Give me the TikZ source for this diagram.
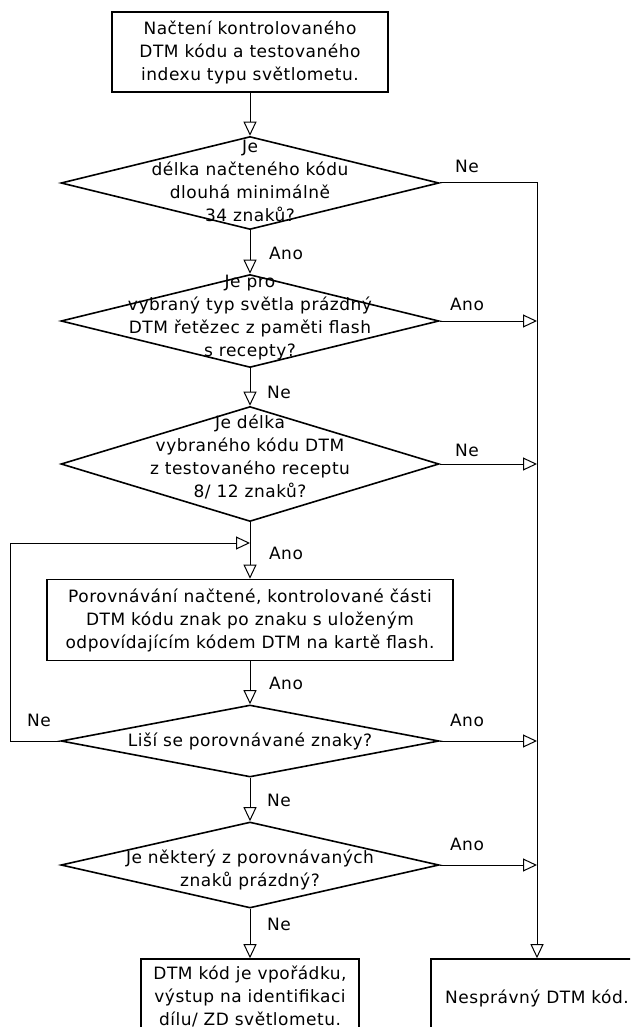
\documentclass[tikz,border=0pt]{standalone}
\usepackage{fontspec}
\setmainfont{DejaVu Sans}[LetterSpace=3]
\usetikzlibrary{arrows.meta}
\usetikzlibrary{shapes.geometric}

\begin{document}
\begin{tikzpicture}[x=1pt, y=-1pt, >={Triangle[open, length=14pt, width=13pt]},
  txt/.style={inner sep=0pt, align=center, font=\fontsize{17}{23}\selectfont},
  box/.style={txt, rectangle, draw, line width=1.6pt},
  decision/.style={diamond, draw, line width=1.6pt, inner sep=0pt, minimum width=378pt},
  flow/.style={line width=1pt}]

\clip (0,0) rectangle (630,1027);

% Define nodes
\node (start) [box, minimum width=276pt, minimum height=80pt] at (250,52)
  {Načtení kontrolovaného\\DTM kódu a testovaného\\indexu typu světlometu.};

\node (d1) [decision, minimum height=93pt] at (250,183) {};
\node (d1t) [txt] at (250,181) {Je\\délka načteného kódu\\dlouhá minimálně\\34 znaků?};

\node (d2) [decision, minimum height=93pt] at (250,321) {};
\node (d2t) [txt] at (250,318) {Je pro\\vybraný typ světla prázdný\\DTM řetězec z paměti flash\\s recepty?};

\node (d3) [decision, minimum height=115pt] at (250,464) {};
\node (d3t) [txt] at (250,457) {Je délka\\vybraného kódu DTM\\z testovaného receptu\\8/ 12 znaků?};

\node (cmp) [box, minimum width=406pt, minimum height=81pt] at (250,620)
  {Porovnávání načtené, kontrolované části\\DTM kódu znak po znaku s uloženým\\odpovídajícím kódem DTM na kartě flash.};

\node (d4) [decision, minimum height=72pt] at (250,741) {};
\node (d4t) [txt] at (250,741) {Liší se porovnávané znaky?};

\node (d5) [decision, minimum height=86pt] at (250,865) {};
\node (d5t) [txt] at (250,870) {Je některý z porovnávaných\\znaků prázdný?};

\node (ok) [box, minimum width=218pt, minimum height=74pt] at (250,996)
  {DTM kód je vpořádku,\\výstup na identifikaci\\dílu/ ZD světlometu.};
\node (bad) [box, minimum width=212pt, minimum height=78pt] at (537,998) {Nesprávný DTM kód.};

\coordinate (lx) at (10,741);
\coordinate (loop) at (250,543);

% Draw edges
\draw[flow, ->] (start) -- (d1);
\draw[flow, ->] (d1) -- (d2);
\draw[flow, ->] (d2) -- (d3);
\draw[flow, ->] (d3) -- (cmp);
\draw[flow, ->] (cmp) -- (d4);
\draw[flow, ->] (d4) -- (d5);
\draw[flow, ->] (d5) -- (ok);

\draw[flow, ->] (d1.east) -| (bad.north);
\draw[flow, ->] (d2.east) -- (d2.east -| bad.north);
\draw[flow, ->] (d3.east) -- (d3.east -| bad.north);
\draw[flow, ->] (d4.east) -- (d4.east -| bad.north);
\draw[flow, ->] (d5.east) -- (d5.east -| bad.north);

\draw[flow, ->] (d4.west) -- (lx) |- (loop);

% Answer labels
\node (a1) [txt] at (467,166) {Ne};
\node (a2) [txt] at (286,253) {Ano};
\node (a3) [txt] at (467,304) {Ano};
\node (a4) [txt] at (279,392) {Ne};
\node (a5) [txt] at (467,450) {Ne};
\node (a6) [txt] at (286,553) {Ano};
\node (a7) [txt] at (286,683) {Ano};
\node (a8) [txt] at (39,720) {Ne};
\node (a9) [txt] at (467,720) {Ano};
\node (a10) [txt] at (279,800) {Ne};
\node (a11) [txt] at (467,844) {Ano};
\node (a12) [txt] at (279,924) {Ne};

\end{tikzpicture}
\end{document}
